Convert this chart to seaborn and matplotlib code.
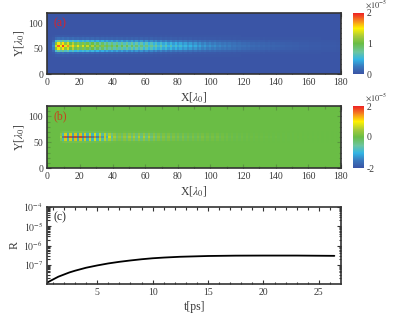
import numpy as np
import pandas as pd
import matplotlib
matplotlib.use("Agg")
import matplotlib.pyplot as plt
from matplotlib.colors import LinearSegmentedColormap
from matplotlib.ticker import FixedLocator, LogLocator, NullFormatter
import seaborn as sns

# values, units of 1e-5, one column every 1.5 lambda
intensity_center = [
    0.02, 0.05, 0.3,
    1.35, 1.8, 1.5, 1.9, 1.4, 1.7, 1.25, 1.55,
    1.15, 1.4, 1.1, 1.35, 1.05, 1.3, 1.0, 1.25,
    .92, 1.15, .88, 1.1, .84, 1.05, .82, 1.02,
    .78, .98, .74, .95, .72, .92, .7, .9,
    .66, .86, .64, .83, .6, .8, .58, .75,
    .56, .72, .53, .68, .5, .64, .46, .6,
    .44, .56, .42, .52, .4, .48, .37, .45,
    .34, .42, .32, .39, .3, .36, .28, .33,
    .27, .31, .25, .28, .23, .26, .21, .24,
    .19, .21, .18, .19, .16, .17, .15, .16,
    .13, .14, .12, .13, .11, .12, .1, .11,
    .09, .1, .09, .09, .08, .08, .07, .07,
    .07, .06, .06, .06, .05, .05, .05, .05, .04, .04, .04,
    .04, .04, .03, .03, .03, .03, .03, .03, .02, .02,
]
field_center = [
    0, 0, 0, 0, 0,
    .6, -1.6, 1.9, -1.9, 1.9, -2, 2, -2,
    2, -1.9, 1.9, -1.8, 1.8, -1.7, 1.6, -1.6,
    1.4, -1.3, 1.2, -1.1, 1.0, -.8, .6, -.45,
    .4, -.45, .5, -.5, .6, -.55, .65, -.6,
    .7, -.65, .7, -.6, .65, -.5, .5, -.45,
    .4, -.35, .35, -.3, .35, -.3, .3, -.25,
    .3, -.25, .3, -.25, .25, -.2, .25, -.2,
    .25, -.2, .25, -.15, .2, -.15, .2, -.15,
    .2, -.15, .15, -.1, .15, -.1, .12, -.08,
    .1, -.08, .1, -.07, .08, -.07, .07, -.06,
    .07, -.05, .06, -.05, .05, -.05, .05, -.04,
    .05, -.04, .04, -.03, .04, -.03, .03, -.03,
    .03, -.02, .03, -.02, .02, -.02, .02, -.02,
    .02, -.02, .02, -.01, .01, -.01, .01, -.01,
    .01, -.01, 0,
]
# transverse shape of the beam, one row every 4.8 lambda
intensity_rows = [0] * 7 + [.02, .1, .4, .8, 1, .8, .4, .1, .02] + [0] * 9
field_rows = [0] * 10 + [.1, .6, 1, .6, .1] + [0] * 10
background = 0.02

t_ps = [.5, 1, 1.5, 2, 2.5, 3, 4, 5, 6, 7, 8, 9, 10, 11, 12.5, 15, 17.5, 20, 23, 26.4]
reflectance = [1.2e-8, 1.7e-8, 2.4e-8, 3.1e-8, 4e-8, 4.9e-8, 7e-8, 9.2e-8, 1.17e-7,
               1.42e-7, 1.67e-7, 1.93e-7, 2.17e-7, 2.36e-7, 2.6e-7, 2.85e-7, 2.97e-7,
               3.0e-7, 3.0e-7, 2.9e-7]

dx = 1.5
dy = 4.8
ink = "#3a3a3a"

sns.set_theme(style="ticks")
plt.rcParams["font.family"] = ["Liberation Serif", "DejaVu Serif"]
plt.rcParams["mathtext.fontset"] = "stix"
plt.rcParams["font.size"] = 7
plt.rcParams["text.color"] = ink
plt.rcParams["axes.labelcolor"] = ink

cmap = LinearSegmentedColormap.from_list("cb", [
    (0.0, "#3a53a4"), (0.12, "#3a78bd"), (0.24, "#33b5e5"), (0.36, "#6cc5a0"),
    (0.5, "#69bd45"), (0.62, "#a8cb3a"), (0.75, "#fff200"), (0.88, "#f58220"), (1.0, "#ed2024"),
])

W, H = 397, 323
fig = plt.figure(figsize=(W / 100, H / 100), dpi=100)


def box(x0, y0, x1, y1):
    return fig.add_axes([x0 / W, 1 - y1 / H, (x1 - x0) / W, (y1 - y0) / H])


def style_frame(ax):
    for s in ax.spines.values():
        s.set_visible(True)
        s.set_linewidth(1.2)
        s.set_color("#333333")
    ax.tick_params(which="both", direction="in", top=True, right=True, bottom=True, left=True,
                   colors="#333333", labelcolor=ink, labelsize=7, pad=3, width=0.8)
    ax.tick_params(which="major", length=3)
    ax.tick_params(which="minor", length=1.8)


def map_panel(values, y0, y1, vmin, vmax, cticks, tag, tag_color, alpha=1.0):
    ax = box(47.3, y0, 341, y1)
    cax = box(353, y0, 364, y1)
    ax.set_facecolor(cmap(0.5))
    df = pd.DataFrame(values)
    sns.heatmap(df, ax=ax, cbar_ax=cax, cmap=cmap, vmin=vmin, vmax=vmax, alpha=alpha,
                xticklabels=False, yticklabels=False)
    ax.collections[0].colorbar.solids.set_alpha(1.0)
    ax.invert_yaxis()
    style_frame(ax)
    ax.set_xticks(np.arange(0, 181, 20) / dx)
    ax.set_xticklabels([str(v) for v in range(0, 181, 20)], rotation=0)
    ax.xaxis.set_minor_locator(FixedLocator(np.arange(10, 180, 20) / dx))
    ax.set_yticks(np.array([0, 50, 100]) / dy)
    ax.set_yticklabels(["0", "50", "100"], rotation=0)
    ax.yaxis.set_minor_locator(FixedLocator(np.arange(0, 121, 10) / dy))
    ax.set_xlabel(r"X[$\lambda_0$]", fontsize=8.5, labelpad=2)
    ax.set_ylabel(r"Y[$\lambda_0$]", fontsize=8.5, labelpad=1.5)
    ax.text(0.02, 0.78, tag, transform=ax.transAxes, color=tag_color, fontsize=8.5)
    cax.set_yticks(cticks)
    cax.set_yticklabels([str(c) for c in cticks])
    cax.tick_params(length=0, pad=2, labelsize=7, labelcolor=ink, right=True, left=False)
    for s in cax.spines.values():
        s.set_visible(False)
    cax.text(1.05, 1.08, r"$\times 10^{-5}$", transform=cax.transAxes, fontsize=6)


intensity = background + np.outer(intensity_rows, intensity_center)
field = np.outer(field_rows, field_center)
map_panel(intensity, 13, 74, 0, 2, [0, 1, 2], "(a)", "#d8232a")
map_panel(field, 106, 168, -2, 2, [-2, 0, 2], "(b)", "#c8401e", alpha=0.72)

ax = box(47.3, 207, 341, 284)
sns.lineplot(x=t_ps, y=reflectance, ax=ax, color="black", linewidth=1.3)
ax.set_yscale("log")
ax.set_xlim(0.5, 27)
ax.set_ylim(1e-8, 1e-4)
style_frame(ax)
ax.set_xticks([5, 10, 15, 20, 25])
ax.xaxis.set_minor_locator(FixedLocator(np.arange(1, 27, 1)))
ax.set_yticks([1e-7, 1e-6, 1e-5, 1e-4])
ax.set_yticklabels([r"$10^{-7}$", r"$10^{-6}$", r"$10^{-5}$", r"$10^{-4}$"])
ax.yaxis.set_minor_locator(LogLocator(base=10, subs=np.arange(2, 10), numticks=10))
ax.yaxis.set_minor_formatter(NullFormatter())
ax.set_xlabel("t[ps]", fontsize=8.5, labelpad=3)
ax.set_ylabel("R", fontsize=8.5)
ax.yaxis.set_label_coords(-0.092, 0.5)
ax.text(0.02, 0.83, "(c)", transform=ax.transAxes, color="#222222", fontsize=8.5)

fig.savefig("out.png", dpi=100)
